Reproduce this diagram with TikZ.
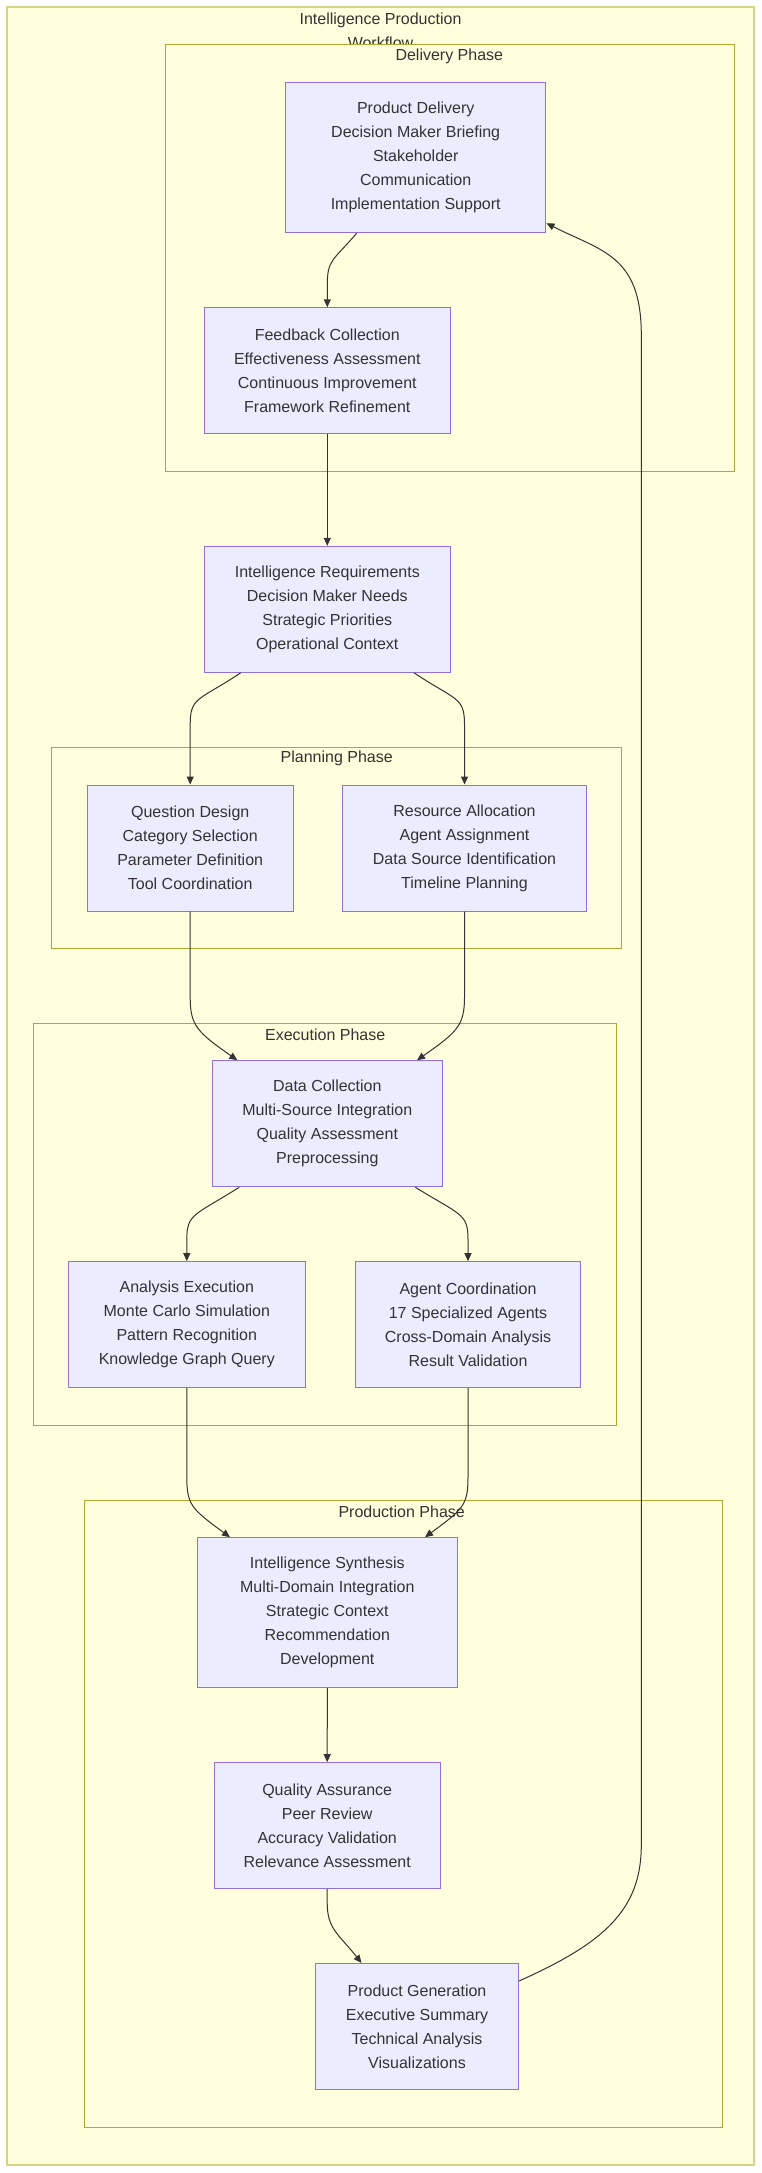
\documentclass[tikz,border=0pt]{standalone}
\usepackage{fontspec}
\setmainfont{Liberation Sans}
\usetikzlibrary{arrows.meta,calc}
\definecolor{nodefill}{HTML}{ECECFF}
\definecolor{nodeline}{HTML}{9370DB}
\definecolor{clusterfill}{HTML}{FFFFDE}
\definecolor{clusterline}{HTML}{AAAA33}
\definecolor{outerline}{HTML}{D4D484}
\definecolor{textcol}{HTML}{333333}
\begin{document}
\begin{tikzpicture}[x=1pt,y=-1pt,
  box/.style={draw=nodeline,fill=nodefill,line width=1pt,align=center,inner sep=0pt,text=textcol,font=\fontsize{16}{24}\selectfont},
  cluster/.style={draw=clusterline,fill=clusterfill,line width=1pt},
  phasename/.style={text=textcol,font=\fontsize{16}{24}\selectfont,inner sep=0pt},
  edge/.style={draw=textcol,line width=1pt,-{Triangle[length=8pt,width=7pt]}}]

\useasboundingbox (0,0) rectangle (762,2173);
\fill[white] (0,0) rectangle (762,2173);
\draw[draw=outerline,fill=clusterfill,line width=2pt] (7,7) rectangle (754,2165);
\node[phasename,align=center] (title) at (380.5,31) {Intelligence Production\\Workflow};

\draw[cluster] (165.7,45) rectangle (734,471.3);
\node[phasename] (delivname) at (449.3,56.7) {Delivery Phase};

\draw[cluster] (51.7,747.7) rectangle (621.3,948.3);
\node[phasename] (planname) at (336.7,758.3) {Planning Phase};

\draw[cluster] (33.7,1023.3) rectangle (616.3,1425.3);
\node[phasename] (execname) at (325.2,1034.3) {Execution Phase};

\draw[cluster] (84.9,1500) rectangle (722.4,2127.7);
\node[phasename] (prodname) at (401.7,1511.7) {Production Phase};

\node[box,minimum width=260.5pt,minimum height=150pt] (pd) at (415.7,157.7)
  {Product Delivery\\Decision Maker Briefing\\Stakeholder\\Communication\\Implementation Support};
\node[box,minimum width=246pt,minimum height=126pt] (fb) at (327.3,370.8)
  {Feedback Collection\\Effectiveness Assessment\\Continuous Improvement\\Framework Refinement};
\node[box,minimum width=246pt,minimum height=126pt] (ir) at (327.3,609.3)
  {Intelligence Requirements\\Decision Maker Needs\\Strategic Priorities\\Operational Context};
\node[box,minimum width=206pt,minimum height=126pt] (qd) at (190.2,848)
  {Question Design\\Category Selection\\Parameter Definition\\Tool Coordination};
\node[box,minimum width=243.6pt,minimum height=126pt] (ra) at (464.5,848)
  {Resource Allocation\\Agent Assignment\\Data Source Identification\\Timeline Planning};
\node[box,minimum width=230pt,minimum height=126pt] (dc) at (327.3,1123.7)
  {Data Collection\\Multi-Source Integration\\Quality Assessment\\Preprocessing};
\node[box,minimum width=237pt,minimum height=126pt] (ae) at (186.8,1324.7)
  {Analysis Execution\\Monte Carlo Simulation\\Pattern Recognition\\Knowledge Graph Query};
\node[box,minimum width=225.4pt,minimum height=126pt] (ac) at (468,1324.7)
  {Agent Coordination\\17 Specialized Agents\\Cross-Domain Analysis\\Result Validation};
\node[box,minimum width=260pt,minimum height=150pt] (is) at (327.3,1612.7)
  {Intelligence Synthesis\\Multi-Domain Integration\\Strategic Context\\Recommendation\\Development};
\node[box,minimum width=226pt,minimum height=126pt] (qa) at (327.2,1825.7)
  {Quality Assurance\\Peer Review\\Accuracy Validation\\Relevance Assessment};
\node[box,minimum width=203pt,minimum height=126pt] (pg) at (417,2026.5)
  {Product Generation\\Executive Summary\\Technical Analysis\\Visualizations};

\coordinate (loopbot) at (641.3,1845);
\coordinate (looptop) at (641.3,335);

\draw[edge] ($(pd.south)+(-59,0)$) .. controls +(-24,28) and +(0,-26) .. ($(fb.north)+(0,-22)$) -- (fb.north);
\draw[edge] (fb.south) -- (ir.north);
\draw[edge] ($(ir.south)+(-86.6,0)$) .. controls +(-42,28) and +(0,-28) .. ($(qd.north)+(0,-60)$) -- (qd.north);
\draw[edge] ($(ir.south)+(86.7,0)$) .. controls +(42,28) and +(0,-28) .. ($(ra.north)+(0,-60)$) -- (ra.north);
\draw[edge] (qd.south) -- ++(0,86) .. controls +(0,28) and +(-40,-28) .. ($(dc.north)+(-90,0)$);
\draw[edge] (ra.south) -- ++(0,86) .. controls +(0,28) and +(40,-28) .. ($(dc.north)+(89.7,0)$);
\draw[edge] ($(dc.south)+(-88,0)$) .. controls +(-44,28) and +(0,-26) .. ($(ae.north)+(0,-22)$) -- (ae.north);
\draw[edge] ($(dc.south)+(88,0)$) .. controls +(45,28) and +(0,-26) .. ($(ac.north)+(0,-22)$) -- (ac.north);
\draw[edge] (ae.south) -- ++(0,89) .. controls +(0,28) and +(-38,-28) .. ($(is.north)+(-97.3,0)$);
\draw[edge] (ac.south) -- ++(0,89) .. controls +(0,28) and +(38,-28) .. ($(is.north)+(97.7,0)$);
\draw[edge] (is.south) -- (qa.north);
\draw[edge] (qa.south) -- ++(0,14) .. controls +(0,26) and +(-22,-28) .. ($(pg.north)+(-55.5,0)$);
\draw[edge] ($(pg.north east)+(0,18)$) .. controls +(85,-38) and +(0,65) .. (loopbot) -- (looptop)
  .. controls +(0,-80) and +(55,28) .. ($(pd.south east)+(0,-10)$);

\end{tikzpicture}
\end{document}
